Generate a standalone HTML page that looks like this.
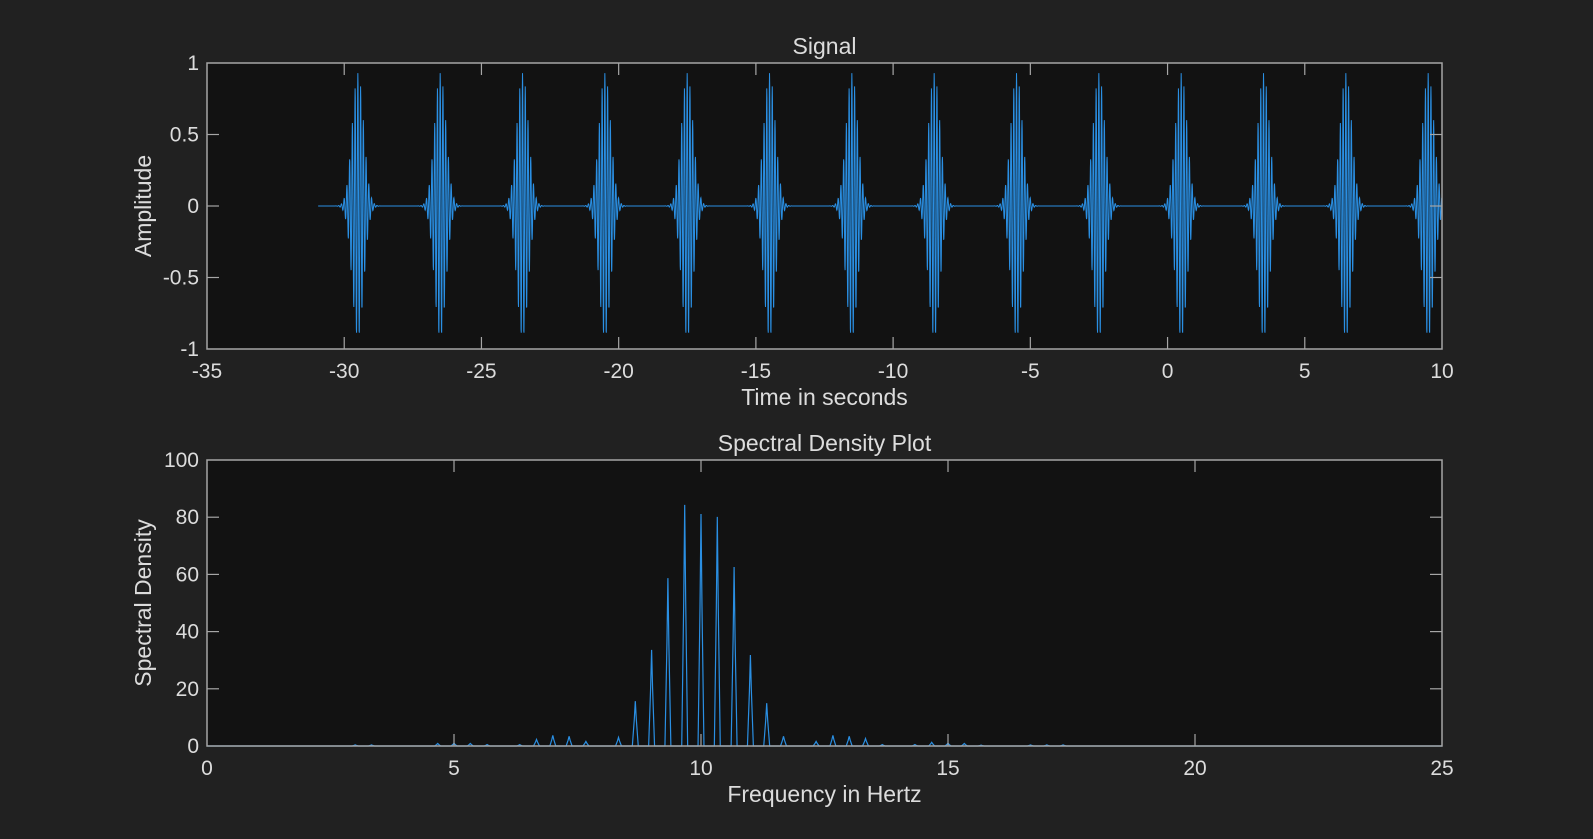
<!DOCTYPE html>
<html><head><meta charset="utf-8"><style>
html,body{margin:0;padding:0;background:#212121;}
svg{display:block;font-family:"Liberation Sans",Arial,sans-serif;}
</style></head><body>
<svg id="fig" width="1593" height="839" viewBox="0 0 1593 839" xmlns="http://www.w3.org/2000/svg">
<rect x="0" y="0" width="1593" height="839" fill="#212121"/>
<g id="top"></g>
<g id="bot"></g>
</svg>
<script>
// ---- data ----
const burstCenters = [-29.5,-26.5,-23.5,-20.5,-17.5,-14.5,-11.5,-8.5,-5.5,-2.5,0.5,3.5,6.5,9.5];
const burstPeak = [0.93];
const carrierHz = [10];
const signalStart = [-30.95];
const topXTicks = [-35,-30,-25,-20,-15,-10,-5,0,5,10];
const topYTicks = [-1,-0.5,0,0.5,1];
const topYTickLabels = ["-1","-0.5","0","0.5","1"];
const peakFreqs = [3.0,3.33,4.67,5.0,5.33,5.67,6.33,6.67,7.0,7.33,7.67,8.33,8.67,9.0,9.33,9.67,10.0,10.33,10.67,11.0,11.33,11.67,12.33,12.67,13.0,13.33,13.67,14.33,14.67,15.0,15.33,15.67,16.67,17.0,17.33];
const peakValues = [0.4,0.4,0.9,1.0,0.9,0.5,0.5,2.3,3.7,3.4,1.6,3.0,15.7,33.6,58.7,84.3,81.1,80.1,62.6,31.8,15.0,3.4,1.6,3.7,3.4,2.6,0.5,0.5,1.3,1.0,0.9,0.3,0.4,0.4,0.4];
const botXTicks = [0,5,10,15,20,25];
const botYTicks = [0,20,40,60,80,100];

const NS='http://www.w3.org/2000/svg';
function mk(tag, attrs, parent){const e=document.createElementNS(NS,tag);for(const k in attrs)e.setAttribute(k,attrs[k]);parent.appendChild(e);return e;}
const L=207,R=1442,W=R-L;
const AX='#a6a6a6',TX='#dcdcdc',LN='#2a8fe3';

function axes(g, top, bot, xmin,xmax,ymin,ymax, xt, yt, ytl, title, xlabel, ylabel, prefix){
  const sx=v=>L+(v-xmin)/(xmax-xmin)*W;
  const sy=v=>bot-(v-ymin)/(ymax-ymin)*(bot-top);
  const bg=mk('rect',{x:L,y:top,width:W,height:bot-top,fill:'#121212'},g);
  
  
  return {sx,sy,finish:function(){
    const fr=mk('rect',{x:L,y:top,width:W,height:bot-top,fill:'none',stroke:AX,'stroke-width':1.5},g);
    
    
    xt.forEach(v=>{
      const x=sx(v);
      if(v!==xmin&&v!==xmax){
        mk('line',{x1:x,y1:bot,x2:x,y2:bot-12,stroke:AX,'stroke-width':1.2},g);
        mk('line',{x1:x,y1:top,x2:x,y2:top+12,stroke:AX,'stroke-width':1.2},g);
      }
      const t=mk('text',{x:x,y:bot+29,'text-anchor':'middle','font-size':21,fill:TX},g);
      t.textContent=String(v);
      
      
    });
    yt.forEach((v,i)=>{
      const y=sy(v);
      if(v!==ymin&&v!==ymax){
        mk('line',{x1:L,y1:y,x2:L+12,y2:y,stroke:AX,'stroke-width':1.2},g);
        mk('line',{x1:R,y1:y,x2:R-12,y2:y,stroke:AX,'stroke-width':1.2},g);
      }
      const t=mk('text',{x:L-8,y:y+7,'text-anchor':'end','font-size':21,fill:TX},g);
      t.textContent=ytl?ytl[i]:String(v);
      
      
    });
    const ti=mk('text',{x:(L+R)/2,y:top-9,'text-anchor':'middle','font-size':23,fill:TX},g);
    ti.textContent=title;
    
    
    const xl=mk('text',{x:(L+R)/2,y:bot+56,'text-anchor':'middle','font-size':23,fill:TX},g);
    xl.textContent=xlabel;
    
    
    const cy=(top+bot)/2;
    const yl=mk('text',{x:151,y:cy,'text-anchor':'middle','font-size':23,fill:TX,transform:'rotate(-90 151 '+cy+')'},g);
    yl.textContent=ylabel;
    
    
  }};
}

// ---- top: signal ----
const gt=document.getElementById('top');
const A=axes(gt,63,349,-35,10,-1,1,topXTicks,topYTicks,topYTickLabels,'Signal','Time in seconds','Amplitude','signal');
let d='';const fs=130;const sig=0.21;
for(let n=0;;n++){
  const t=signalStart[0]+n/fs; if(t>10)break;
  let v=0;
  burstCenters.forEach(c=>{const u=t-c; if(Math.abs(u)<0.9) v+=burstPeak[0]*Math.exp(-u*u/(2*sig*sig))*Math.cos(2*Math.PI*carrierHz[0]*u+0.2);});
  d+=(n?'L':'M')+A.sx(t).toFixed(2)+','+A.sy(v).toFixed(2);
}
const sl=mk('path',{d:d,fill:'none',stroke:LN,'stroke-width':1},gt);


A.finish();

// ---- bottom: spectrum ----
const gb=document.getElementById('bot');
const B=axes(gb,460,746,0,25,0,100,botXTicks,botYTicks,null,'Spectral Density Plot','Frequency in Hertz','Spectral Density','spectrum');
let d2='M'+B.sx(0)+','+B.sy(0);
peakFreqs.forEach((f,i)=>{
  const h=peakValues[i];
  d2+='L'+B.sx(f-0.06).toFixed(2)+','+B.sy(0).toFixed(2);
  d2+='L'+B.sx(f-0.02).toFixed(2)+','+B.sy(h*0.6).toFixed(2);
  d2+='L'+B.sx(f).toFixed(2)+','+B.sy(h).toFixed(2);
  d2+='L'+B.sx(f+0.02).toFixed(2)+','+B.sy(h*0.6).toFixed(2);
  d2+='L'+B.sx(f+0.06).toFixed(2)+','+B.sy(0).toFixed(2);
});
d2+='L'+B.sx(25)+','+B.sy(0);
const spl=mk('path',{d:d2,fill:'none',stroke:LN,'stroke-width':1.2},gb);


B.finish();
</script>
</body></html>
